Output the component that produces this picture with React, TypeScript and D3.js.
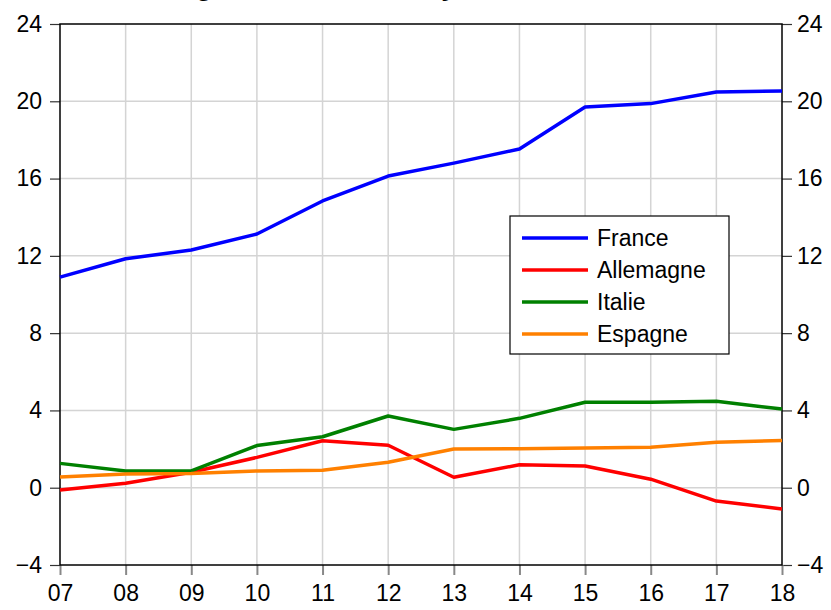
import React, { useEffect, useRef } from 'react';
import * as d3 from 'd3';

const years = ['07', '08', '09', '10', '11', '12', '13', '14', '15', '16', '17', '18'];
const france = [10.9, 11.85, 12.3, 13.13, 14.84, 16.13, 16.8, 17.53, 19.7, 19.88, 20.48, 20.53];
const allemagne = [-0.12, 0.23, 0.8, 1.57, 2.43, 2.2, 0.54, 1.19, 1.12, 0.44, -0.69, -1.1];
const italie = [1.26, 0.87, 0.87, 2.18, 2.64, 3.71, 3.02, 3.59, 4.42, 4.42, 4.47, 4.07];
const espagne = [0.55, 0.71, 0.73, 0.87, 0.9, 1.32, 2.0, 2.02, 2.06, 2.1, 2.35, 2.45];
const yTicks = [-4, 0, 4, 8, 12, 16, 20, 24];

const series = [
  { name: 'France', values: france, color: '#0000ff' },
  { name: 'Allemagne', values: allemagne, color: '#ff0000' },
  { name: 'Italie', values: italie, color: '#008000' },
  { name: 'Espagne', values: espagne, color: '#ff8000' },
];

const App = () => {
  const svgRef = useRef<SVGSVGElement>(null);

  useEffect(() => {
    const svg = d3.select(svgRef.current);
    svg.selectAll('*').remove();

    const left = 60, right = 782, top = 24, bottom = 565;
    const font = '"Liberation Sans", Arial, sans-serif';

    const x = d3.scalePoint<string>().domain(years).range([left, right]);
    const y = d3.scaleLinear().domain([-4, 24]).range([bottom, top]);

    // title, cut off above the picture as in the original
    svg.append('text')
      .attr('x', 148).attr('y', -5)
      .style('font-family', font).style('font-size', '28px')
      .style('font-weight', 'bold').style('font-style', 'italic')
      .text('Marge bénéficiaire moyenne');

    // grid
    svg.append('g').selectAll('line')
      .data(yTicks.slice(1, -1)).join('line')
      .attr('x1', left).attr('x2', right)
      .attr('y1', d => y(d)).attr('y2', d => y(d))
      .attr('stroke', '#d4d4d4').attr('stroke-width', 1.5);
    svg.append('g').selectAll('line')
      .data(years.slice(1, -1)).join('line')
      .attr('x1', d => x(d)!).attr('x2', d => x(d)!)
      .attr('y1', top).attr('y2', bottom)
      .attr('stroke', '#d4d4d4').attr('stroke-width', 1.5);

    // axes
    const yl = svg.append('g').attr('transform', `translate(${left},0)`)
      .call(d3.axisLeft(y).tickValues(yTicks).tickSize(10).tickPadding(8));
    const yr = svg.append('g').attr('transform', `translate(${right},0)`)
      .call(d3.axisRight(y).tickValues(yTicks).tickSize(10).tickPadding(5));
    const xb = svg.append('g').attr('transform', `translate(0,${bottom})`)
      .call(d3.axisBottom(x).tickSize(10).tickPadding(10));
    [yl, yr, xb].forEach(g => {
      g.select('.domain').remove();
      g.selectAll('text').style('font-family', font).style('font-size', '23px').attr('fill', '#000');
      g.selectAll('line').attr('stroke', '#333').attr('stroke-width', 1.2);
    });
    xb.selectAll('line').attr('stroke', '#888').attr('stroke-width', 2);

    // frame
    svg.append('rect')
      .attr('x', left).attr('y', top).attr('width', right - left).attr('height', bottom - top)
      .attr('fill', 'none').attr('stroke', '#000').attr('stroke-width', 1.5);

    const line = d3.line<number>()
      .x((_, i) => x(years[i])!)
      .y(d => y(d));

    series.forEach(s => {
      svg.append('path')
        .datum(s.values)
        .attr('fill', 'none')
        .attr('stroke', s.color)
        .attr('stroke-width', 3.5)
        .attr('stroke-linejoin', 'round')
        .attr('d', line);
    });

    // legend
    const lg = svg.append('g');
    lg.append('rect')
      .attr('x', 510).attr('y', 216).attr('width', 219).attr('height', 138)
      .attr('fill', '#fff').attr('stroke', '#000').attr('stroke-width', 1.2);
    series.forEach((s, i) => {
      const cy = 238 + i * 32;
      lg.append('line')
        .attr('x1', 522).attr('x2', 588).attr('y1', cy).attr('y2', cy)
        .attr('stroke', s.color).attr('stroke-width', 3.5);
      lg.append('text')
        .attr('x', 597).attr('y', cy).attr('dy', '0.35em')
        .style('font-family', font).style('font-size', '23px')
        .text(s.name);
    });
  }, []);

  return (
    <svg ref={svgRef} width={831} height={610}
      style={{ position: 'absolute', left: 0, top: 0, background: '#fff' }} />
  );
};

export default App;
